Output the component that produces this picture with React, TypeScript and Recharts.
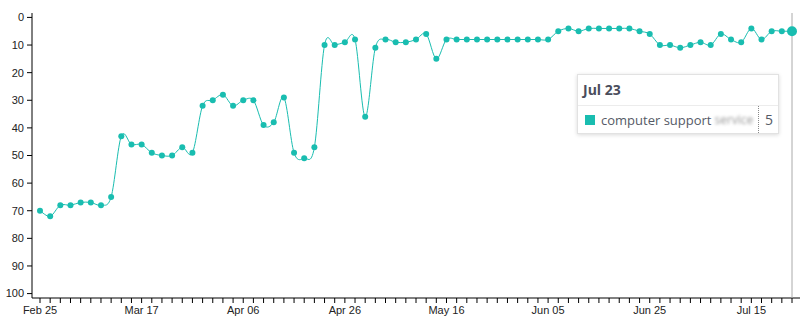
import React from "react";
import { LineChart, Line, XAxis, YAxis, Tooltip } from "recharts";

const lineColor = "#19bdb0";

// ranks every second day from Feb 25 to Jul 23
const ranks = [
  70, 72, 68, 68, 67, 67, 68, 65, 43, 46,
  46, 49, 50, 50, 47, 49, 32, 30, 28, 32,
  30, 30, 39, 38, 29, 49, 51, 47, 10, 10,
  9, 8, 36, 11, 8, 9, 9, 8, 6, 15,
  8, 8, 8, 8, 8, 8, 8, 8, 8, 8,
  8, 5, 4, 5, 4, 4, 4, 4, 4, 5,
  6, 10, 10, 11, 10, 9, 10, 6, 8, 9,
  4, 8, 5, 5, 5,
];

const tickLabels = ["Feb 25", "Mar 17", "Apr 06", "Apr 26", "May 16", "Jun 05", "Jun 25", "Jul 15"];
const yTicks = [0, 10, 20, 30, 40, 50, 60, 70, 80, 90, 100];
const months = ["Jan", "Feb", "Mar", "Apr", "May", "Jun", "Jul", "Aug", "Sep", "Oct", "Nov", "Dec"];

const dayLabel = (i: number) => {
  const d = new Date(Date.UTC(2019, 1, 25 + i * 2));
  return months[d.getUTCMonth()] + " " + String(d.getUTCDate()).padStart(2, "0");
};

const data = ranks.map((rank, i) => ({ date: dayLabel(i), rank }));

// catmull-rom style cardinal curve (tension 0)
const cardinal = (context: any) => {
  let pts: number[][] = [];
  return {
    areaStart() {},
    areaEnd() {},
    lineStart() {
      pts = [];
    },
    point(x: number, y: number) {
      pts.push([+x, +y]);
    },
    lineEnd() {
      const n = pts.length;
      if (!n) return;
      context.moveTo(pts[0][0], pts[0][1]);
      for (let i = 0; i < n - 1; i++) {
        const p0 = pts[Math.max(0, i - 1)];
        const p1 = pts[i];
        const p2 = pts[i + 1];
        const p3 = pts[Math.min(n - 1, i + 2)];
        context.bezierCurveTo(
          p1[0] + (p2[0] - p0[0]) / 6,
          p1[1] + (p2[1] - p0[1]) / 6,
          p2[0] - (p3[0] - p1[0]) / 6,
          p2[1] - (p3[1] - p1[1]) / 6,
          p2[0],
          p2[1]
        );
      }
    },
  };
};

const TipBox = ({ active, payload, label }: any) => {
  if (!active || !payload || !payload.length) return null;
  return (
    <div
      style={{
        width: 200,
        background: "#fff",
        border: "1px solid #e2e2e2",
        boxShadow: "0 1px 4px rgba(0,0,0,0.15)",
        fontFamily: "'Open Sans', sans-serif",
        color: "#555a66",
        fontSize: 13,
        whiteSpace: "nowrap",
      }}
    >
      <div
        style={{
          padding: "6px 5px",
          lineHeight: "18px",
          fontSize: 14,
          fontWeight: 700,
          color: "#4a4d5c",
          borderBottom: "1px solid #ececec",
        }}
      >
        {label}
      </div>
      <div style={{ display: "flex", height: 27, alignItems: "center" }}>
        <div
          style={{
            width: 180,
            flexShrink: 0,
            display: "flex",
            alignItems: "center",
            paddingLeft: 7,
            boxSizing: "border-box",
            overflow: "hidden",
          }}
        >
          <span style={{ width: 10, height: 10, background: lineColor, display: "inline-block", marginRight: 6, flexShrink: 0 }} />
          <span>computer support</span>
          <span style={{ filter: "blur(1.5px)", color: "#999", fontSize: 12, marginLeft: 3 }}>service</span>
        </div>
        <div
          style={{
            borderLeft: "1px dotted #888",
            height: "100%",
            display: "flex",
            alignItems: "center",
            paddingLeft: 6,
            fontSize: 14,
          }}
        >
          {payload[0].value}
        </div>
      </div>
    </div>
  );
};

export default function App() {
  return (
    <div style={{ position: "absolute", left: 0, top: 0, width: 806, height: 328, background: "#fff" }}>
      <LineChart width={806} height={328} data={data} margin={{ top: 13, right: 6, bottom: 0, left: 0 }}>
        <XAxis
          dataKey="date"
          interval={0}
          padding={{ left: 8, right: 8 }}
          height={30}
          tickSize={5}
          tickMargin={3}
          stroke="#000"
          tick={{ fontSize: 11, fill: "#222", fontFamily: "'Liberation Sans', Arial, sans-serif" }}
          tickFormatter={(_v: string, i: number) => (i % 10 === 0 ? tickLabels[i / 10] ?? "" : "")}
        />
        <YAxis
          type="number"
          reversed
          domain={[-1.6, 101.6]}
          ticks={yTicks}
          allowDataOverflow
          width={32}
          tickSize={5}
          tickMargin={3}
          stroke="#000"
          tick={{ fontSize: 11, fill: "#222", fontFamily: "'Liberation Sans', Arial, sans-serif" }}
        />
        <Tooltip
          active
          defaultIndex={74}
          position={{ x: 577, y: 74 }}
          content={<TipBox />}
          cursor={{ stroke: "#aaa", strokeWidth: 1 }}
          isAnimationActive={false}
          wrapperStyle={{ outline: "none" }}
        />
        <Line
          dataKey="rank"
          type={cardinal as any}
          stroke={lineColor}
          strokeWidth={1}
          dot={{ r: 3, fill: lineColor, stroke: "none" }}
          activeDot={{ r: 5, fill: lineColor, stroke: "none" }}
          isAnimationActive={false}
        />
      </LineChart>
    </div>
  );
}
